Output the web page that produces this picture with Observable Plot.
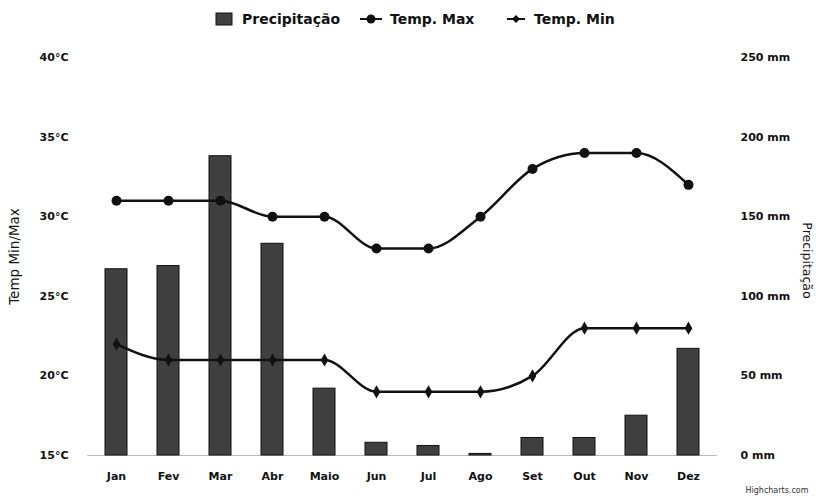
<!DOCTYPE html>
<html><head><meta charset="utf-8">
<script src="https://cdn.jsdelivr.net/npm/d3@7"></script>
<script src="https://cdn.jsdelivr.net/npm/@observablehq/plot@0.6"></script>
<style>
body{margin:0;background:#fff;font-family:"DejaVu Sans",sans-serif;}
#legend{height:40px;position:relative;font-size:14px;font-weight:bold;color:#111;}
#legend .it{position:absolute;top:11px;display:flex;align-items:center;white-space:nowrap;}
</style></head><body>
<div id="legend"></div>
<div id="chart"></div>
<script>
const months = ["Jan","Fev","Mar","Abr","Maio","Jun","Jul","Ago","Set","Out","Nov","Dez"];
const precipitacao = [117,119,188,133,42,8,6,1,11,11,25,67];
const tempMax = [31,31,31,30,30,28,28,30,33,34,34,32];
const tempMin = [22,21,21,21,21,19,19,19,20,23,23,23];
const tempTicks = [15,20,25,30,35,40];
const precTicks = [0,50,100,150,200,250];

// precipitation (0-250 mm) shares the vertical scale of temperature (15-40 °C)
const toTemp = p => 15 + p / 10;
const rows = months.map((m,i)=>({month:m, prec:precipitacao[i], max:tempMax[i], min:tempMin[i]}));

const legend = document.getElementById("legend");
legend.innerHTML = `
<div class="it" style="left:215px"><svg width="18" height="14" style="margin-right:9px"><rect x="1" y="1" width="16" height="12" fill="#404040" stroke="#111"/></svg>Precipitação</div>
<div class="it" style="left:360px"><svg width="22" height="12" style="margin-right:8px"><line x1="0" y1="6" x2="22" y2="6" stroke="#111" stroke-width="2"/><circle cx="11" cy="6" r="4.5" fill="#111"/></svg>Temp. Max</div>
<div class="it" style="left:507px"><svg width="18" height="12" style="margin-right:9px"><line x1="0" y1="6" x2="18" y2="6" stroke="#111" stroke-width="2"/><path d="M9 2 L13 6 L9 10 L5 6 Z" fill="#111"/></svg>Temp. Min</div>`;

const chart = Plot.plot({
  width: 816,
  height: 459,
  marginLeft: 87,
  marginRight: 99,
  marginTop: 17,
  marginBottom: 44,
  style: {fontFamily: "DejaVu Sans, sans-serif", fontSize: "11px", fontWeight: "bold", color: "#111", background: "#fff"},
  x: {type: "band", domain: months, paddingInner: 0.58, paddingOuter: 0.29, label: null},
  y: {domain: [15, 40], label: null},
  marks: [
    Plot.axisX({tickSize: 0, tickPadding: 17, fontSize: 11}),
    Plot.axisY({ticks: tempTicks, tickFormat: d => d + "°C", tickSize: 0, tickPadding: 19, label: null}),
    Plot.axisY({anchor: "right", ticks: precTicks.map(toTemp), tickFormat: d => Math.round((d - 15) * 10) + " mm", tickSize: 0, tickPadding: 23, label: null}),
    Plot.text(["Temp Min/Max"], {frameAnchor: "left", textAnchor: "middle", dx: -73, rotate: -90, fontSize: 13.5, fontWeight: "normal"}),
    Plot.text(["Precipitação"], {frameAnchor: "right", textAnchor: "middle", dx: 89, dy: 4, rotate: 90, fontSize: 12.5, fontWeight: "normal"}),
    Plot.ruleY([15], {stroke: "#bbb", strokeWidth: 1}),
    Plot.barY(rows, {x: "month", y1: 15, y2: d => toTemp(d.prec), fill: "#404040", stroke: "#111", strokeWidth: 1}),
    Plot.lineY(rows, {x: "month", y: "max", stroke: "#111", strokeWidth: 2.5, curve: "monotone-x"}),
    Plot.dot(rows, {x: "month", y: "max", r: 5, fill: "#111"}),
    Plot.lineY(rows, {x: "month", y: "min", stroke: "#111", strokeWidth: 2.5, curve: "monotone-x"}),
    Plot.dot(rows, {x: "month", y: "min", symbol: "diamond", r: 4, fill: "#111"}),
    Plot.text(["Highcharts.com"], {frameAnchor: "bottom-right", dx: 28, dy: 37, textAnchor: "start", fontSize: 8, fontWeight: "normal", fill: "#333"})
  ]
});
document.getElementById("chart").appendChild(chart);
</script>
</body></html>
